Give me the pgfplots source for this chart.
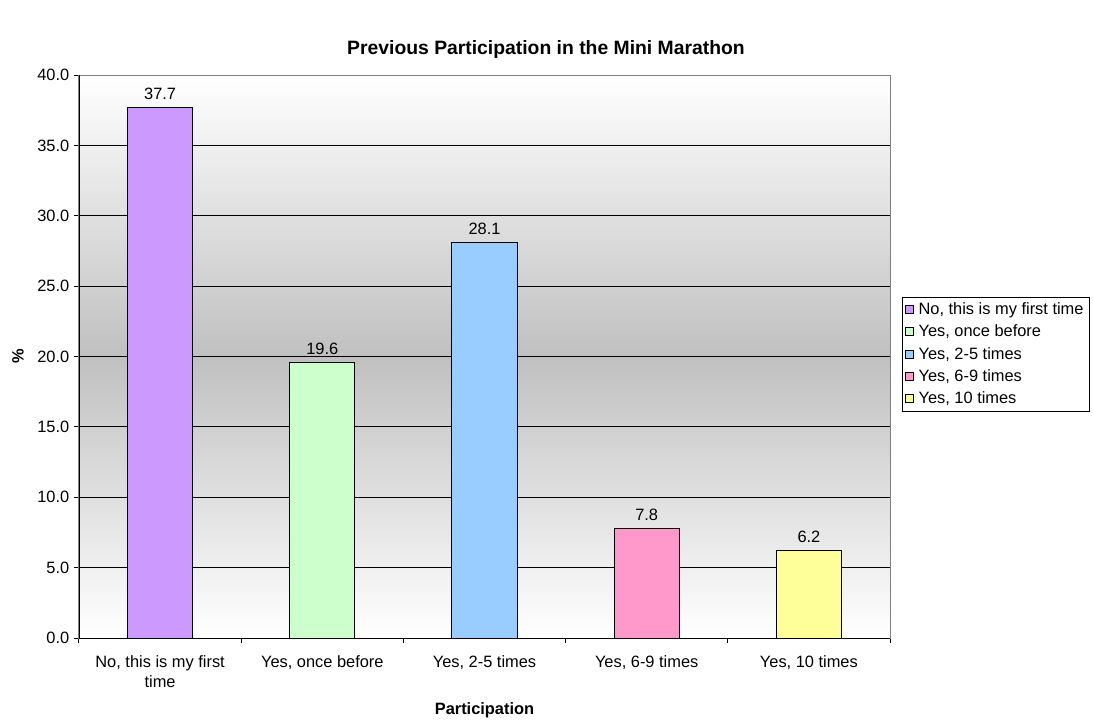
\documentclass[border=0pt]{standalone}
\usepackage{fontspec}
\setmainfont{Liberation Sans}
\usepackage{pgfplots}
\pgfplotsset{compat=1.18}

\definecolor{cFirst}{HTML}{CC99FF}
\definecolor{cOnce}{HTML}{CCFFCC}
\definecolor{cTwoFive}{HTML}{99CCFF}
\definecolor{cSixNine}{HTML}{FF99CC}
\definecolor{cTen}{HTML}{FFFF99}
\definecolor{bgmid}{HTML}{C0C0C0}

\newcommand{\chartfont}{\fontsize{12.3}{15}\selectfont}

\begin{document}
\begin{tikzpicture}
\begin{axis}[
  scale only axis,
  width=608.25pt, height=422.25pt,
  ybar, bar width=48.75pt, bar shift=0pt,
  xmin=-0.5, xmax=4.5, ymin=0, ymax=40,
  font=\chartfont,
  /pgf/number format/assume math mode=true,
  axis background/.style={top color=white, bottom color=white, middle color=bgmid},
  axis line style={draw=gray, line width=0.75pt},
  tick align=outside,
  xtick pos=left, ytick pos=left,
  tick style={black, line width=0.75pt},
  major tick length=3.75pt,
  xtick={-0.5,0.5,...,4.5}, xticklabels={},
  extra x ticks={0,1,2,3,4},
  extra x tick labels={{No, this is my first\\time},{Yes, once before},{Yes, 2-5 times},{Yes, 6-9 times},{Yes, 10 times}},
  extra x tick style={major tick length=0pt},
  xticklabel style={align=center, font=\chartfont, yshift=-9.5pt},
  ytick={0,5,...,40},
  yticklabel style={font=\chartfont, /pgf/number format/.cd, fixed, fixed zerofill, precision=1},
  ymajorgrids, major grid style={black, line width=0.75pt},
  nodes near coords={\pgfmathprintnumber[fixed,fixed zerofill,precision=1]{\pgfplotspointmeta}},
  every node near coord/.append style={font=\chartfont, black, yshift=2pt},
  title={\textbf{Previous Participation in the Mini Marathon}},
  every axis title/.style={at={(axis description cs:0.5758,1.0497)}, anchor=center, yshift=-1.5pt, font=\fontsize{14.5}{17}\selectfont},
  xlabel={\textbf{Participation}},
  every axis x label/.style={at={(axis description cs:0.5,0)}, yshift=-54pt, anchor=center},
  ylabel={\textbf{\%}},
  every axis y label/.style={at={(axis description cs:0,0.5)}, xshift=-45.75pt, rotate=90, anchor=center},
  legend style={at={(axis description cs:1.0148,0.6062)}, anchor=north west, draw=black, fill=white,
    font=\chartfont, row sep=2.4pt, inner sep=2pt,
    /tikz/every odd column/.append style={column sep=1.5pt}},
  legend cell align=left,
  legend image code/.code={\draw[#1, draw=black, line width=0.75pt] (0pt,-3pt) rectangle (6pt,3pt);},
]
\addplot[fill=cFirst, draw=black, line width=0.75pt] coordinates {(0,37.7)};
\addplot[fill=cOnce, draw=black, line width=0.75pt] coordinates {(1,19.6)};
\addplot[fill=cTwoFive, draw=black, line width=0.75pt] coordinates {(2,28.1)};
\addplot[fill=cSixNine, draw=black, line width=0.75pt] coordinates {(3,7.8)};
\addplot[fill=cTen, draw=black, line width=0.75pt] coordinates {(4,6.2)};
\legend{{No, this is my first time},{Yes, once before},{Yes, 2-5 times},{Yes, 6-9 times},{Yes, 10 times}}
\end{axis}
\draw[black, line width=0.75pt] (0,422.25pt) -- (0,0) -- (608.25pt,0);
\pgfresetboundingbox
\path (-59.25pt,-60.75pt) rectangle (760.5pt,478.5pt);
\end{tikzpicture}
\end{document}
